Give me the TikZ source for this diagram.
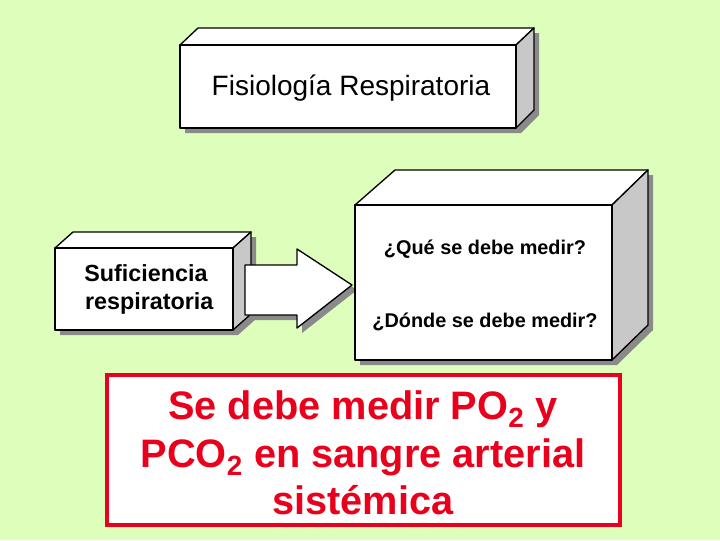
\documentclass[tikz,border=0pt]{standalone}
\usepackage{fontspec}
\setmainfont{Liberation Sans}
\definecolor{bg}{HTML}{DDFFBB}
\definecolor{sh}{HTML}{8A8A8A}
\definecolor{side}{HTML}{C8C8C8}
\definecolor{rd}{HTML}{E8001C}
\begin{document}
\begin{tikzpicture}[x=0.75pt,y=-0.75pt,
  face/.style={draw=black,line width=1pt,fill=white,line join=round},
  sface/.style={draw=black,line width=1pt,fill=side,line join=round},
  shadow/.style={fill=sh,draw=none}]
\fill[bg] (0,0) rectangle (720,540);
\useasboundingbox (0,0) rectangle (720,540);
% box 1
\fill[shadow] (185,50) -- (203,33) -- (539,33) -- (539,115) -- (521,133) -- (185,133) -- cycle;
\draw[face] (180,45) -- (198,28) -- (534,28) -- (516,45) -- cycle;
\draw[sface] (516,45) -- (534,28) -- (534,110) -- (516,128) -- cycle;
\draw[face] (180,45) rectangle (516,128);
\node[font=\fontsize{21}{24}\selectfont] (fr) at (351,88) {Fisiología Respiratoria};
% box 2
\fill[shadow] (60,253) -- (78,237) -- (256,237) -- (256,319) -- (238,335) -- (60,335) -- cycle;
\draw[face] (55,248) -- (73,232) -- (251,232) -- (233,248) -- cycle;
\draw[sface] (233,248) -- (251,232) -- (251,314) -- (233,330) -- cycle;
\draw[face] (55,248) rectangle (233,330);
\node[font=\bfseries\fontsize{17.5}{21}\selectfont,align=center] (sr) at (146,289) {Suficiencia\\\ respiratoria};
% arrow
\fill[shadow] (250,270) -- (302,270) -- (302,254) -- (357,290) -- (302,333) -- (302,320) -- (250,320) -- cycle;
\draw[face] (245,265) -- (297,265) -- (297,249) -- (352,285) -- (297,328) -- (297,315) -- (245,315) -- cycle;
% box 3
\fill[shadow] (360,210) -- (400,175) -- (653,175) -- (653,330) -- (617,365) -- (360,365) -- cycle;
\draw[face] (355,205) -- (395,170) -- (648,170) -- (612,205) -- cycle;
\draw[sface] (612,205) -- (648,170) -- (648,325) -- (612,360) -- cycle;
\draw[face] (355,205) rectangle (612,360);
\node[font=\bfseries\fontsize{14.9}{17}\selectfont] (q1) at (485,249) {¿Qué se debe medir?};
\node[font=\bfseries\fontsize{14.9}{17}\selectfont] (q2) at (485,322) {¿Dónde se debe medir?};
% red box
\draw[draw=rd,line width=3.5pt,fill=white] (107,375) rectangle (620,525);
\node[font=\bfseries\fontsize{29.8}{35.5}\selectfont,text=rd,align=center] (ans) at (363,453)
 {Se debe medir PO\textsubscript{2} y\\PCO\textsubscript{2} en sangre arterial\\sistémica};
\end{tikzpicture}
\end{document}
